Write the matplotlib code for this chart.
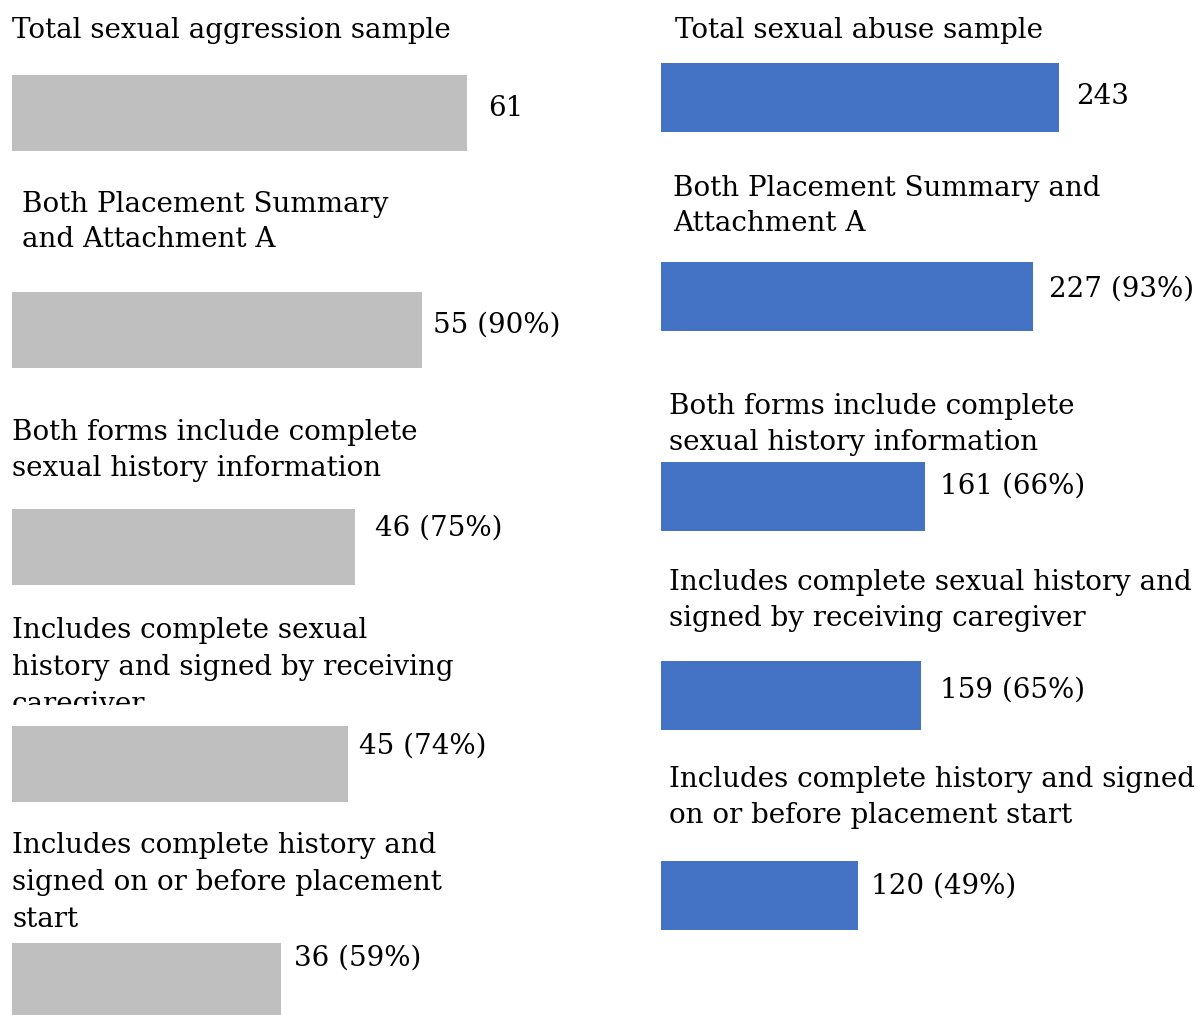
import matplotlib
matplotlib.use("Agg")
import matplotlib.pyplot as plt
from matplotlib.transforms import Bbox, TransformedBbox

# ---- data ----
left_labels = [
    ["Total sexual aggression sample"],
    ["Both Placement Summary", "and Attachment A"],
    ["Both forms include complete", "sexual history information"],
    ["Includes complete sexual", "history and signed by receiving", "caregiver"],
    ["Includes complete history and", "signed on or before placement", "start"],
]
left_values = [61, 55, 46, 45, 36]
left_text = ["61", "55 (90%)", "46 (75%)", "45 (74%)", "36 (59%)"]

right_labels = [
    ["Total sexual abuse sample"],
    ["Both Placement Summary and", "Attachment A"],
    ["Both forms include complete", "sexual history information"],
    ["Includes complete sexual history and", "signed by receiving caregiver"],
    ["Includes complete history and signed", "on or before placement start"],
]
right_values = [243, 227, 161, 159, 120]
right_text = ["243", "227 (93%)", "161 (66%)", "159 (65%)", "120 (49%)"]

W, H = 1197, 1015
FONT = "DejaVu Serif"
fig = plt.figure(figsize=(W / 100, H / 100), dpi=100)
fig.patch.set_facecolor("white")

# fit font size so the first label spans the reference width
probe = fig.text(0, 0, left_labels[0][0], fontsize=20, family=FONT)
fig.canvas.draw()
w = probe.get_window_extent().width
probe.remove()
FS = 20 * 438 / w


def fx(x):
    return x / W


def fy(y):
    return 1 - y / H


def panel(x0, bar_w_px, vmax, c0, step, bar_h_px, values, color):
    # axes whose x-scale maps 0..vmax onto the bar pixel span, y index -> pixel rows
    ax = fig.add_axes([fx(x0), 0, bar_w_px / W, 1])
    ax.set_xlim(0, vmax)
    ax.set_ylim((H - c0) / step, -c0 / step)
    ax.barh(range(len(values)), values, height=bar_h_px / step, color=color,
            edgecolor="none")
    ax.axis("off")
    return ax


panel(12, 455, 61, 113, 217, 76, left_values, "#BFBFBF")
panel(661, 398, 243, 97.5, 199.5, 69, right_values, "#4472C4")

# the fourth left label is cut off in its text box just above the bar
clip4 = TransformedBbox(Bbox.from_extents(0, fy(705), 1, fy(600)), fig.transFigure)

# category labels (baselines in px)
left_lab_x = [12, 22, 12, 12, 12]
left_lab_base = [[38], [212, 247], [440, 476], [638, 675, 712], [853, 890, 927]]
for i, (lines, x, ys) in enumerate(zip(left_labels, left_lab_x, left_lab_base)):
    for line, y in zip(lines, ys):
        t = fig.text(fx(x), fy(y), line, fontsize=FS, family=FONT,
                     va="baseline", ha="left", color="black")
        if i == 3:
            t.set_clip_box(clip4)
            t.set_clip_on(True)

right_lab_x = [675, 673, 669, 669, 669]
right_lab_base = [[38], [196, 231], [414, 450], [590, 626], [787, 823]]
for lines, x, ys in zip(right_labels, right_lab_x, right_lab_base):
    for line, y in zip(lines, ys):
        fig.text(fx(x), fy(y), line, fontsize=FS, family=FONT,
                 va="baseline", ha="left", color="black")

# value labels
left_val_pos = [(488, 108), (433, 325), (375, 528), (359, 746), (294, 958)]
for s, (x, y) in zip(left_text, left_val_pos):
    fig.text(fx(x), fy(y), s, fontsize=FS, family=FONT, va="center", ha="left")

right_val_pos = [(1076, 97), (1049, 289), (940, 486), (940, 690), (871, 886)]
for s, (x, y) in zip(right_text, right_val_pos):
    fig.text(fx(x), fy(y), s, fontsize=FS, family=FONT, va="center", ha="left")

fig.savefig("out.png", dpi=100, facecolor="white")
